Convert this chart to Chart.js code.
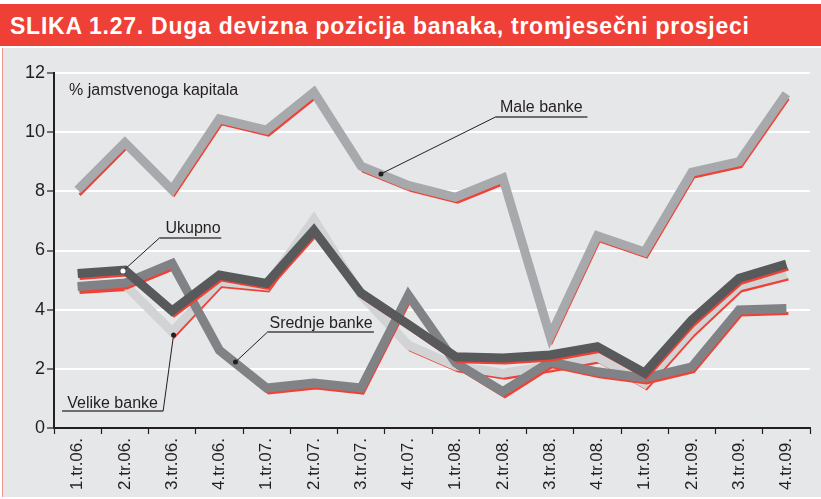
<!DOCTYPE html>
<html>
<head>
<meta charset="utf-8">
<script src="https://cdn.jsdelivr.net/npm/chart.js@4.4.1/dist/chart.umd.min.js"></script>
<style>
  body { margin: 0; background: #fff; width: 821px; height: 499px; overflow: hidden; position: relative; }
  #naslov {
    position: absolute; left: 0; top: 4px; width: 821px; height: 42px;
    background: #ee4036; color: #fff;
    font: bold 23px "Liberation Sans", Arial, sans-serif; letter-spacing: 0.75px;
    line-height: 44px; padding-left: 10px; box-sizing: border-box; white-space: nowrap;
  }
  #okvir {
    position: absolute; left: 2px; top: 48px; width: 819px; height: 449px;
    background: #e6e7e8; border-left: 1px solid #f3968f; box-sizing: border-box;
  }
  #graf { position: absolute; left: -3px; top: -2px; }
</style>
</head>
<body>
<div id="naslov">SLIKA 1.27. Duga devizna pozicija banaka, tromjesečni prosjeci</div>
<div id="okvir"><canvas id="graf" width="821" height="453"></canvas></div>
<script>
const kvartali = ["1.tr.06.", "2.tr.06.", "3.tr.06.", "4.tr.06.", "1.tr.07.", "2.tr.07.", "3.tr.07.", "4.tr.07.",
  "1.tr.08.", "2.tr.08.", "3.tr.08.", "4.tr.08.", "1.tr.09.", "2.tr.09.", "3.tr.09.", "4.tr.09."];
const maleBanke = [8.05, 9.65, 8.05, 10.45, 10.07, 11.35, 8.85, 8.2, 7.8, 8.45, 3.1, 6.5, 5.95, 8.65, 9.0, 11.3];
const velikeBanke = [4.75, 4.85, 3.25, 4.95, 4.8, 7.05, 4.5, 2.8, 2.1, 1.85, 2.1, 2.4, 1.5, 3.3, 4.8, 5.2];
const srednjeBanke = [4.78, 4.9, 5.56, 2.63, 1.35, 1.52, 1.35, 4.49, 2.2, 1.23, 2.24, 1.9, 1.69, 2.07, 3.99, 4.04];
const ukupno = [5.22, 5.34, 3.96, 5.17, 4.89, 6.68, 4.56, 3.5, 2.41, 2.37, 2.47, 2.75, 1.86, 3.65, 5.06, 5.54];
const yOznake = [0, 2, 4, 6, 8, 10, 12];

const crvena = "#ef4136";
const tamno = "#231f20";

function serija(podaci, boja, redoslijed) {
  return [
    { data: podaci, borderColor: crvena, borderWidth: 3, sjena: true, order: redoslijed + 1 },
    { data: podaci, borderColor: boja, borderWidth: 9, order: redoslijed },
  ];
}

// crvena linija je pomaknuta ispod sive (sjena)
const sjenaPlugin = {
  id: "sjena",
  beforeDatasetDraw(chart, args) {
    if (args.meta._dataset.sjena) {
      chart.ctx.save();
      chart.ctx.translate(2, 5);
    }
  },
  afterDatasetDraw(chart, args) {
    if (args.meta._dataset.sjena) chart.ctx.restore();
  },
};

// oznake serija s linijama
const oznake = [
  { tekst: "Male banke", tx: 8.94, ty: 10.68, u1: 8.84, u2: 10.79, uy: 10.51, px: 6.42, py: 8.59, tocka: "#231f20" },
  { tekst: "Ukupno", tx: 1.86, ty: 6.6, u1: 1.73, u2: 3.04, uy: 6.42, px: 0.96, py: 5.31, tocka: "#ffffff" },
  { tekst: "Velike banke", tx: -0.22, ty: 0.68, u1: -0.33, u2: 1.81, uy: 0.575, px: 2.03, py: 3.14, tocka: "#231f20", desno: true },
  { tekst: "Srednje banke", tx: 4.06, ty: 3.38, u1: 4.02, u2: 6.27, uy: 3.245, px: 3.34, py: 2.23, tocka: "#231f20" },
];

const oznakePlugin = {
  id: "oznake",
  afterDatasetsDraw(chart) {
    const { ctx, scales: { x, y } } = chart;
    ctx.save();
    ctx.fillStyle = tamno;
    ctx.font = "16px 'Liberation Sans', Arial, sans-serif";
    ctx.fillText("% jamstvenoga kapitala", x.getPixelForValue(-0.18), y.getPixelForValue(11.26));
    oznake.forEach((o) => {
      const u1 = x.getPixelForValue(o.u1), u2 = x.getPixelForValue(o.u2), uy = y.getPixelForValue(o.uy);
      const px = x.getPixelForValue(o.px), py = y.getPixelForValue(o.py);
      ctx.fillStyle = tamno;
      ctx.fillText(o.tekst, x.getPixelForValue(o.tx), y.getPixelForValue(o.ty));
      ctx.strokeStyle = "#444";
      ctx.lineWidth = 1.5;
      ctx.beginPath();
      ctx.moveTo(u1, uy);
      ctx.lineTo(u2, uy);
      ctx.stroke();
      ctx.strokeStyle = tamno;
      ctx.lineWidth = 1;
      ctx.beginPath();
      ctx.moveTo(o.desno ? u2 : u1, uy);
      ctx.lineTo(px, py);
      ctx.stroke();
      ctx.fillStyle = o.tocka;
      ctx.beginPath();
      ctx.arc(px, py, 2.5, 0, Math.PI * 2);
      ctx.fill();
    });
    ctx.restore();
  },
};

new Chart(document.querySelector("#graf"), {
  type: "line",
  data: {
    labels: kvartali,
    datasets: [
      ...serija(maleBanke, "#a7a9ac", 0),
      ...serija(ukupno, "#58595b", 2),
      ...serija(srednjeBanke, "#808285", 4),
      ...serija(velikeBanke, "#d1d3d4", 6),
    ],
  },
  options: {
    responsive: false,
    animation: false,
    layout: { padding: { left: 0, right: 11, top: 27, bottom: 0 } },
    elements: {
      point: { radius: 0 },
      line: { tension: 0, borderJoinStyle: "miter", borderCapStyle: "butt" },
    },
    plugins: { legend: { display: false }, tooltip: { enabled: false } },
    scales: {
      x: {
        offset: true,
        afterFit: (s) => { s.height = 71; },
        grid: { drawOnChartArea: false, offset: true, tickLength: 6, color: tamno, tickWidth: 1.2 },
        border: { color: tamno, width: 2 },
        ticks: {
          minRotation: 90, maxRotation: 90, padding: 4, color: tamno,
          font: { family: "'Liberation Sans', Arial, sans-serif", size: 17 },
        },
      },
      y: {
        min: 0, max: 12,
        afterFit: (s) => { s.width = 54; },
        afterBuildTicks: (s) => { s.ticks = yOznake.map((v) => ({ value: v })); },
        grid: { color: "#ffffff", lineWidth: 2, tickLength: 7, tickColor: tamno, tickWidth: 1.2 },
        border: { color: tamno, width: 2 },
        ticks: {
          padding: 2, color: tamno,
          font: { family: "'Liberation Sans', Arial, sans-serif", size: 18 },
        },
      },
    },
  },
  plugins: [sjenaPlugin, oznakePlugin],
});
</script>
</body>
</html>
